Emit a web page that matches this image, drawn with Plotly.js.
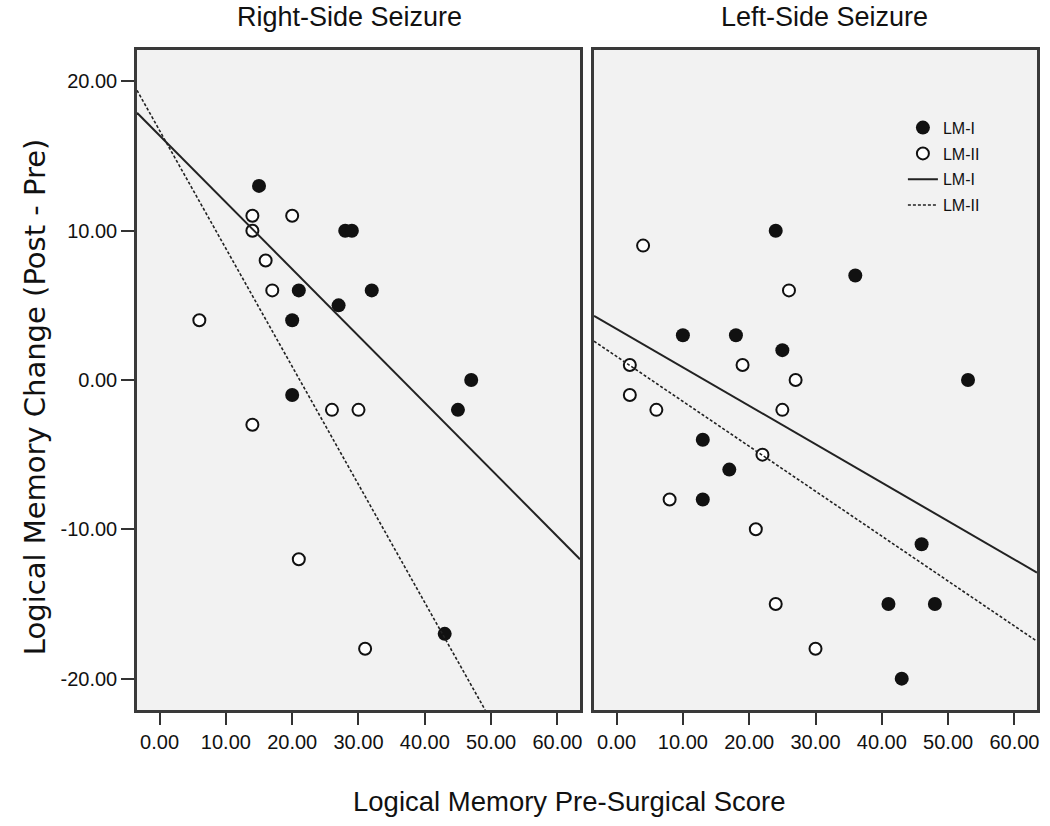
<!DOCTYPE html>
<html>
<head>
<meta charset="utf-8">
<script src="https://cdn.plot.ly/plotly-3.0.1.min.js"></script>
<style>
  html, body { margin: 0; padding: 0; background: #fff; }
</style>
</head>
<body>
<div id="chart" style="width:1050px;height:826px;"></div>
<script>
// Right-side seizure group
var rightLM1x = [15, 28, 29, 21, 32, 27, 20, 47, 45, 20, 43];
var rightLM1y = [13, 10, 10, 6, 6, 5, 4, 0, -2, -1, -17];
var rightLM2x = [14, 20, 14, 16, 17, 6, 14, 26, 30, 21, 31];
var rightLM2y = [11, 11, 10, 8, 6, 4, -3, -2, -2, -12, -18];

// Left-side seizure group
var leftLM1x = [24, 36, 10, 18, 25, 53, 13, 17, 13, 46, 41, 48, 43];
var leftLM1y = [10, 7, 3, 3, 2, 0, -4, -6, -8, -11, -15, -15, -20];
var leftLM2x = [4, 26, 2, 19, 27, 2, 6, 25, 22, 8, 21, 24, 30];
var leftLM2y = [9, 6, 1, 1, 0, -1, -2, -2, -5, -8, -10, -15, -18];

// fit lines, end points
var rightFitLM1x = [-3.4, 63.4];
var rightFitLM1y = [17.9, -12.0];
var rightFitLM2x = [-3.4, 49.1];
var rightFitLM2y = [19.4, -22.1];
var leftFitLM1x = [-3.4, 63.4];
var leftFitLM1y = [4.3, -12.9];
var leftFitLM2x = [-3.4, 63.4];
var leftFitLM2y = [2.6, -17.5];

var xTickVals = [0, 10, 20, 30, 40, 50, 60];
var xTickText = ['0.00', '10.00', '20.00', '30.00', '40.00', '50.00', '60.00'];
var yTickVals = [-20, -10, 0, 10, 20];
var yTickText = ['-20.00', '-10.00', '0.00', '10.00', '20.00'];

var panelTitles = ['Right-Side Seizure', 'Left-Side Seizure'];
var seriesNames = ['LM-I', 'LM-II'];

var FONT = '"Liberation Sans", Arial, sans-serif';
var INK = '#111';

function dots(x, y, name, filled, xa, ya, show) {
  return {
    type: 'scatter', mode: 'markers', x: x, y: y, name: name,
    xaxis: xa, yaxis: ya, showlegend: show, legendgroup: name + (filled ? 'p' : 'q'),
    marker: filled
      ? { symbol: 'circle', size: 14, color: INK, line: { width: 0 } }
      : { symbol: 'circle', size: 12, color: '#fff', line: { width: 2, color: INK } },
    hoverinfo: 'x+y'
  };
}

function fit(x, y, name, dashed, xa, ya, show) {
  return {
    type: 'scatter', mode: 'lines', x: x, y: y, name: name,
    xaxis: xa, yaxis: ya, showlegend: show, legendgroup: name + (dashed ? 'd' : 's'),
    line: dashed ? { color: '#222', width: 1.6, dash: '3px,2px' } : { color: '#222', width: 2 },
    hoverinfo: 'skip'
  };
}

var data = [
  dots(rightLM1x, rightLM1y, seriesNames[0], true, 'x', 'y', false),
  dots(rightLM2x, rightLM2y, seriesNames[1], false, 'x', 'y', false),
  fit(rightFitLM1x, rightFitLM1y, seriesNames[0], false, 'x', 'y', false),
  fit(rightFitLM2x, rightFitLM2y, seriesNames[1], true, 'x', 'y', false),
  dots(leftLM1x, leftLM1y, seriesNames[0], true, 'x2', 'y2', true),
  dots(leftLM2x, leftLM2y, seriesNames[1], false, 'x2', 'y2', true),
  fit(leftFitLM1x, leftFitLM1y, seriesNames[0], false, 'x2', 'y2', true),
  fit(leftFitLM2x, leftFitLM2y, seriesNames[1], true, 'x2', 'y2', true)
];

var xAxisBase = {
  range: [-3.4, 63.4], tickvals: xTickVals, ticktext: xTickText,
  ticks: 'outside', ticklen: 12, tickwidth: 2, tickcolor: '#333',
  showline: true, mirror: true, linewidth: 2.5, linecolor: '#3a3a3a',
  showgrid: false, zeroline: false,
  tickfont: { family: FONT, size: 20, color: INK }
};
var yAxisBase = {
  range: [-22.1, 22.1], tickvals: yTickVals, ticktext: yTickText,
  showline: true, mirror: true, linewidth: 2.5, linecolor: '#3a3a3a',
  showgrid: false, zeroline: false,
  tickfont: { family: FONT, size: 20, color: INK }
};

var layout = {
  width: 1050, height: 826,
  margin: { l: 137, r: 13, t: 50, b: 116 },
  paper_bgcolor: '#ffffff',
  plot_bgcolor: '#f2f2f2',
  showlegend: true,
  xaxis: Object.assign({}, xAxisBase, { domain: [0, 0.4922], anchor: 'y' }),
  xaxis2: Object.assign({}, xAxisBase, { domain: [0.5078, 1], anchor: 'y2' }),
  yaxis: Object.assign({}, yAxisBase, { anchor: 'x', ticks: 'outside', ticklen: 13, tickwidth: 2, tickcolor: '#333' }),
  yaxis2: Object.assign({}, yAxisBase, { anchor: 'x2', matches: 'y', showticklabels: false, ticks: '' }),
  legend: {
    x: 0.851, y: 0.908, xanchor: 'left', yanchor: 'top',
    bgcolor: 'rgba(0,0,0,0)', borderwidth: 0,
    traceorder: 'grouped', tracegroupgap: 2,
    font: { family: FONT, size: 16, color: INK }
  },
  annotations: [
    { text: panelTitles[0], xref: 'x domain', yref: 'paper', x: 0.48, y: 1, yshift: 50,
      showarrow: false, font: { family: FONT, size: 27, color: INK } },
    { text: panelTitles[1], xref: 'x2 domain', yref: 'paper', x: 0.52, y: 1, yshift: 50,
      showarrow: false, font: { family: FONT, size: 27, color: INK } },
    { text: 'Logical Memory Pre-Surgical Score', xref: 'paper', yref: 'paper',
      x: 0.481, y: 0, yshift: -109, showarrow: false,
      font: { family: FONT, size: 27.5, color: INK } },
    { text: 'Logical Memory Change (Post - Pre)', xref: 'paper', yref: 'paper',
      x: 0, xshift: -121, y: 0.474, textangle: -90, showarrow: false,
      font: { family: '"DejaVu Sans", sans-serif', size: 29, color: INK } }
  ]
};

var config = { displayModeBar: false, responsive: false };

Plotly.newPlot('chart', data, layout, config);
</script>
</body>
</html>
